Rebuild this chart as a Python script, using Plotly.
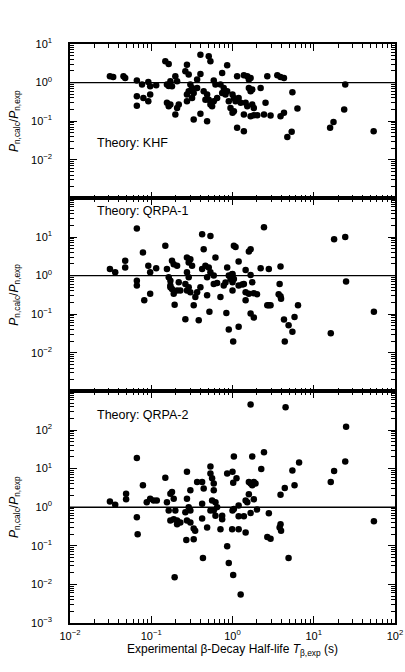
import plotly.graph_objects as go
from plotly.subplots import make_subplots

# ---------------- data ----------------
khf_t = [0.031, 0.034, 0.0455, 0.0478, 0.0665, 0.077, 0.092, 0.097, 0.0665, 0.0665,
         0.080, 0.092, 0.097, 0.115, 0.149, 0.164, 0.156, 0.164, 0.180, 0.172,
         0.198, 0.208, 0.156, 0.164, 0.172, 0.208, 0.218, 0.198, 0.275, 0.263,
         0.289, 0.303, 0.318, 0.289, 0.275, 0.333, 0.367, 0.318, 0.275, 0.367,
         0.403, 0.333, 0.403, 0.487, 0.403, 0.51, 0.535, 0.442, 0.487, 0.51,
         0.535, 0.561, 0.464, 0.588, 0.647, 0.617, 0.588, 0.746, 0.86, 0.711,
         0.78, 0.82, 0.86, 0.746, 0.90, 0.945, 1.04, 1.14, 1.38, 1.52,
         1.59, 1.67, 1.59, 1.67, 1.75, 2.22, 1.0, 1.04, 1.14, 1.19,
         1.09, 1.26, 1.45, 1.75, 1.83, 1.52, 2.55, 1.0, 1.38, 1.67,
         1.83, 2.02, 2.44, 2.94, 1.14, 1.38, 2.68, 3.56, 3.9, 4.3,
         3.9, 4.3, 5.46, 6.3, 4.73, 5.35, 15.9, 17.5, 24.4, 23.7, 54.6]
khf_r = [1.46, 1.40, 1.45, 1.32, 1.13, 0.89, 1.04, 0.80, 0.44, 0.25,
         0.40, 0.33, 0.49, 0.85, 3.55, 3.04, 0.89, 0.82, 0.80, 1.08,
         1.45, 1.08, 0.30, 0.244, 0.27, 0.22, 0.27, 0.149, 2.92, 1.96,
         1.61, 0.89, 0.73, 0.60, 0.49, 0.54, 0.73, 0.40, 0.33, 1.20,
         1.68, 0.11, 0.155, 0.10, 5.3, 4.8, 3.55, 0.60, 0.49, 0.36,
         0.27, 0.244, 0.36, 0.33, 0.40, 0.89, 1.13, 1.78, 2.80, 0.89,
         0.73, 0.49, 0.60, 0.54, 0.33, 0.22, 0.18, 1.45, 1.55, 1.45,
         1.20, 1.32, 0.73, 0.60, 0.66, 0.73, 0.49, 0.40, 0.36, 0.40,
         0.33, 0.30, 0.30, 0.27, 0.22, 0.244, 0.30, 0.165, 0.149, 0.135,
         0.143, 0.143, 0.149, 0.14, 0.068, 0.055, 1.45, 1.55, 1.40, 1.32,
         0.135, 0.165, 0.56, 0.213, 0.039, 0.053, 0.068, 0.096, 0.89, 0.20, 0.055]

qrpa1_t = [0.0665, 0.031, 0.036, 0.0478, 0.0478, 0.0665, 0.0665, 0.079, 0.092, 0.097,
           0.115, 0.097, 0.082, 0.149, 0.156, 0.164, 0.172, 0.172, 0.180, 0.189,
           0.208, 0.172, 0.180, 0.189, 0.208, 0.218, 0.228, 0.194, 0.263, 0.275,
           0.289, 0.303, 0.318, 0.275, 0.289, 0.263, 0.289, 0.275, 0.303, 0.349,
           0.367, 0.333, 0.403, 0.384, 0.423, 0.535, 0.442, 0.423, 0.464, 0.51,
           0.535, 0.487, 0.588, 0.617, 0.588, 0.487, 0.52, 0.711, 0.647, 0.86,
           0.90, 0.945, 0.82, 0.99, 0.78, 1.04, 0.84, 0.90, 1.02, 2.44,
           1.09, 1.59, 1.67, 1.19, 1.45, 2.22, 2.8, 3.9, 1.0, 1.0,
           1.04, 1.0, 1.19, 1.32, 1.38, 1.67, 1.75, 1.0, 1.45, 1.59,
           1.83, 2.0, 1.45, 1.67, 1.83, 1.19, 2.68, 2.8, 2.94, 3.8,
           3.7, 3.9, 3.96, 4.3, 4.9, 5.46, 5.8, 4.4, 6.4, 17.8,
           24.4, 25.0, 16.2, 55.0]
qrpa1_r = [16.6, 1.48, 1.22, 2.42, 1.63, 0.74, 0.55, 3.96, 1.80, 1.22,
           1.54, 0.34, 0.23, 5.9, 1.48, 0.90, 0.74, 0.55, 2.42, 1.98,
           1.80, 0.50, 0.45, 0.34, 0.41, 0.67, 0.41, 0.176, 0.074, 2.95,
           2.19, 2.67, 1.80, 1.22, 0.90, 0.61, 0.50, 0.41, 0.37, 0.28,
           0.37, 0.17, 0.50, 0.070, 11.7, 10.6, 4.8, 1.48, 1.80, 1.63,
           1.22, 0.90, 1.0, 2.95, 0.61, 0.31, 0.115, 0.28, 0.64, 1.63,
           1.0, 0.82, 0.66, 1.08, 0.55, 5.9, 0.108, 0.040, 0.0195, 18.0,
           5.5, 4.2, 4.8, 2.33, 1.39, 1.54, 1.48, 1.73, 1.10, 0.90,
           0.82, 0.67, 0.55, 0.59, 0.61, 1.04, 0.67, 0.41, 0.37, 0.34,
           0.35, 0.33, 0.23, 0.104, 0.082, 0.047, 0.17, 0.17, 0.17, 0.61,
           0.33, 0.29, 0.25, 0.073, 0.052, 0.035, 0.085, 0.0195, 0.17, 8.7,
           10.0, 0.70, 0.032, 0.115]

qrpa2_t = [0.0665, 0.031, 0.036, 0.049, 0.049, 0.0665, 0.068, 0.079, 0.088, 0.097,
           0.107, 0.117, 0.149, 0.156, 0.164, 0.172, 0.180, 0.189, 0.172, 0.189,
           0.208, 0.208, 0.198, 0.194, 0.228, 0.275, 0.303, 0.275, 0.289, 0.303,
           0.263, 0.275, 0.303, 0.27, 0.333, 0.347, 0.333, 0.367, 0.423, 0.442,
           0.423, 0.423, 0.487, 0.433, 0.535, 0.535, 0.561, 0.588, 0.588, 0.561,
           0.617, 0.647, 0.588, 0.535, 0.617, 0.746, 0.746, 0.711, 0.86, 1.0,
           1.02, 0.86, 0.90, 1.02, 1.04, 0.99, 1.67, 4.5, 25.0, 1.75,
           2.44, 2.26, 1.12, 1.59, 1.67, 1.83, 1.75, 1.92, 1.59, 1.83,
           1.52, 1.45, 1.19, 1.04, 1.0, 1.19, 1.38, 1.67, 2.0, 2.8,
           1.19, 1.45, 2.68, 2.94, 3.9, 3.8, 3.96, 3.9, 4.4, 4.9,
           5.46, 5.8, 6.6, 16.2, 17.8, 24.4, 55.0, 1.26]
qrpa2_r = [18.7, 1.41, 1.15, 2.24, 1.60, 0.55, 0.20, 3.7, 1.35, 1.65,
           1.50, 1.50, 5.8, 1.35, 0.82, 2.24, 2.48, 1.65, 0.45, 0.49,
           0.45, 0.36, 0.82, 0.0153, 0.40, 8.3, 2.75, 1.65, 1.0, 0.82,
           0.74, 0.45, 0.40, 0.141, 0.147, 0.244, 0.28, 4.5, 4.5, 3.03,
           1.22, 0.51, 0.30, 0.048, 11.3, 7.5, 5.6, 4.1, 2.75, 1.50,
           1.35, 1.0, 0.82, 0.82, 0.60, 0.60, 0.49, 0.27, 7.5, 8.3,
           4.3, 0.098, 0.036, 0.0176, 20.7, 0.27, 455.0, 386.0, 122.0, 20.7,
           26.4, 9.8, 5.6, 4.5, 4.1, 4.5, 3.7, 4.1, 2.16, 1.60,
           1.35, 1.50, 1.1, 0.90, 0.82, 0.58, 0.58, 0.71, 0.87, 0.70,
           0.27, 0.22, 0.17, 0.153, 0.36, 0.30, 0.244, 2.1, 3.16, 0.048,
           8.9, 3.7, 14.4, 4.5, 8.7, 15.3, 0.43, 0.0055]

panel_labels = ["Theory: KHF", "Theory: QRPA-1", "Theory: QRPA-2"]
ref_ratio = 1.0
x_range_vals = [0.01, 100]

x_tickvals = [0.01, 0.1, 1, 10, 100]
x_ticktext = ["10<sup>−2</sup>", "10<sup>−1</sup>", "10<sup>0</sup>", "10<sup>1</sup>", "10<sup>2</sup>"]

y1_tickvals = [0.001, 0.01, 0.1, 1, 10]
y1_ticktext = [" ", "10<sup>−2</sup>", "10<sup>−1</sup>", "10<sup>0</sup>", "10<sup>1</sup>"]
y2_tickvals = [0.001, 0.01, 0.1, 1, 10, 100]
y2_ticktext = [" ", "10<sup>−2</sup>", "10<sup>−1</sup>", "10<sup>0</sup>", "10<sup>1</sup>", " "]
y3_tickvals = [0.001, 0.01, 0.1, 1, 10, 100, 1000]
y3_ticktext = ["10<sup>−3</sup>", "10<sup>−2</sup>", "10<sup>−1</sup>", "10<sup>0</sup>",
               "10<sup>1</sup>", "10<sup>2</sup>", " "]

# ---------------- figure ----------------
FONT = "Liberation Sans, Arial, Helvetica, sans-serif"
fig = make_subplots(rows=3, cols=1, shared_xaxes=True, vertical_spacing=0,
                    row_heights=[4, 5, 6])

series = [(khf_t, khf_r), (qrpa1_t, qrpa1_r), (qrpa2_t, qrpa2_r)]
for i, (t, r) in enumerate(series, start=1):
    fig.add_trace(go.Scatter(x=x_range_vals, y=[ref_ratio, ref_ratio], mode="lines",
                             line=dict(color="black", width=1.4),
                             showlegend=False, hoverinfo="skip"), row=i, col=1)
    fig.add_trace(go.Scatter(x=t, y=r, mode="markers",
                             marker=dict(color="black", size=6.5, line=dict(width=0)),
                             showlegend=False), row=i, col=1)

ytitle = "<i>P</i><sub>n,calc</sub>/<i>P</i><sub>n,exp</sub>"
yranges = [[-3, 1], [-3, 2], [-3, 3]]
yticks = [(y1_tickvals, y1_ticktext), (y2_tickvals, y2_ticktext), (y3_tickvals, y3_ticktext)]
minor_style = dict(ticks="inside", ticklen=4, tickcolor="black", tickwidth=1,
                   dtick="D1", showgrid=False)
for i in range(1, 4):
    fig.update_yaxes(type="log", range=yranges[i - 1], row=i, col=1, automargin=False,
                     tickmode="array", tickvals=yticks[i - 1][0], ticktext=yticks[i - 1][1],
                     ticks="inside", ticklen=7, tickcolor="black", tickwidth=1.2,
                     showline=True, linecolor="black", linewidth=1.5, mirror="ticks",
                     showgrid=False, zeroline=False,
                     minor=minor_style,
                     ticklabelstandoff=14,
                     tickfont=dict(family=FONT, size=11, color="black"),
                     title=dict(text=ytitle, font=dict(family=FONT, size=12, color="black"),
                                standoff=10))
    fig.update_xaxes(type="log", range=[-2, 2], row=i, col=1, automargin=False,
                     tickmode="array", tickvals=x_tickvals, ticktext=x_ticktext,
                     ticks="inside", ticklen=7, tickcolor="black", tickwidth=1.2,
                     showline=True, linecolor="black", linewidth=1.5, mirror="ticks",
                     showgrid=False, zeroline=False,
                     minor=minor_style,
                     tickfont=dict(family=FONT, size=11, color="black"))

fig.update_xaxes(row=3, col=1, ticklabelstandoff=2,
                 title=dict(text="Experimental β-Decay Half-life <i>T</i><sub>β,exp</sub> (s)",
                            font=dict(family=FONT, size=12, color="black"), standoff=4))

label_y = [0.36, 0.935, 0.9]
for i in range(3):
    xref = "x domain" if i == 0 else f"x{i + 1} domain"
    yref = "y domain" if i == 0 else f"y{i + 1} domain"
    fig.add_annotation(text=panel_labels[i], xref=xref, yref=yref, x=0.077, y=label_y[i],
                       xanchor="left", yanchor="middle", showarrow=False,
                       font=dict(family=FONT, size=12.5, color="black"))

fig.update_layout(width=405, height=672, margin=dict(l=70, r=10, t=44, b=49),
                  paper_bgcolor="white", plot_bgcolor="white",
                  font=dict(family=FONT, color="black"))

fig.write_html("out.html", config={"displayModeBar": False},
               post_script="document.body.style.margin='0px';")
